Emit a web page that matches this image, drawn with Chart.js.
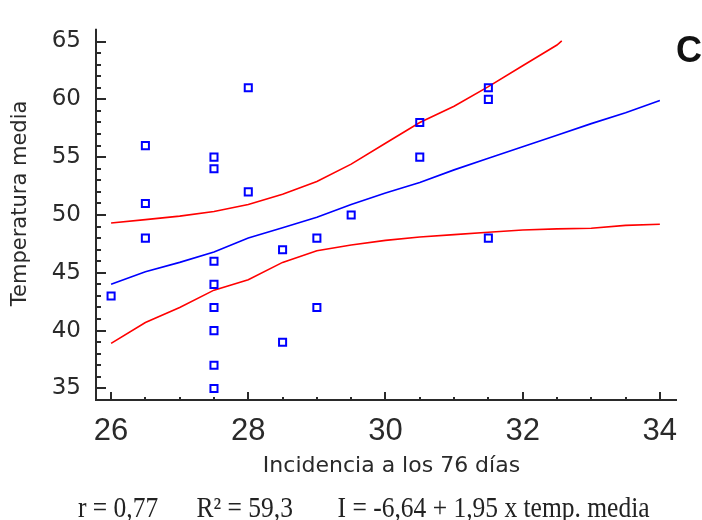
<!DOCTYPE html>
<html>
<head>
<meta charset="utf-8">
<script src="https://cdn.jsdelivr.net/npm/chart.js@4.4.1/dist/chart.umd.min.js"></script>
<style>
  html, body { margin: 0; padding: 0; background: #ffffff; }
  #wrap { width: 702px; height: 520px; position: relative; }
</style>
</head>
<body>
<div id="wrap"><canvas id="c" width="702" height="520"></canvas></div>
<script>
// ---- data ----
const pointX = [26, 26.5, 26.5, 26.5, 27.5, 27.5, 27.5, 27.5, 27.5, 27.5, 27.5, 27.5, 28, 28, 28.5, 28.5, 29, 29, 29.5, 30.5, 30.5, 31.5, 31.5, 31.5];
const pointY = [43, 56, 51, 48, 55, 54, 46, 44, 42, 40, 37, 35, 61, 52, 47, 39, 48, 42, 50, 58, 55, 61, 60, 48];

const fitX = [26, 26.5, 27, 27.5, 28, 28.5, 29, 29.5, 30, 30.5, 31, 31.5, 32, 32.5, 33, 33.5, 34];
const fitY = [44.0, 45.1, 45.9, 46.8, 48.0, 48.9, 49.8, 50.9, 51.9, 52.8, 53.9, 54.9, 55.9, 56.9, 57.9, 58.85, 59.9];

const upperX = [26, 26.5, 27, 27.5, 28, 28.5, 29, 29.5, 30, 30.5, 31, 31.5, 32, 32.5, 32.57];
const upperY = [49.3, 49.6, 49.9, 50.3, 50.9, 51.8, 52.9, 54.4, 56.2, 58.0, 59.4, 61.1, 62.9, 64.7, 65.05];

const lowerX = [26, 26.5, 27, 27.5, 28, 28.5, 29, 29.5, 30, 30.5, 31, 31.5, 32, 32.5, 33, 33.5, 34];
const lowerY = [38.9, 40.7, 42.0, 43.5, 44.4, 45.9, 46.9, 47.4, 47.8, 48.1, 48.3, 48.5, 48.7, 48.8, 48.85, 49.1, 49.2];

const xTicks = [26, 28, 30, 32, 34];
const yTicks = [35, 40, 45, 50, 55, 60, 65];

const xTitle = 'Incidencia a los 76 días';
const yTitle = 'Temperatura media';
const panelLabel = 'C';
const caption = 'r = 0,77      R\u00B2 = 59,3       I = -6,64 + 1,95 x temp. media';

// ---- helpers ----
const toXY = (xs, ys) => xs.map((x, i) => ({ x: x, y: ys[i] }));

const axisColor = '#2a2a2a';

const axesPlugin = {
  id: 'axesPlugin',
  afterDraw(chart) {
    const { ctx, chartArea: ca, scales } = chart;
    const xs = scales.x, ys = scales.y;
    ctx.save();
    ctx.strokeStyle = axisColor;
    ctx.lineWidth = 2;
    ctx.lineCap = 'butt';
    ctx.beginPath();
    ctx.moveTo(ca.left, ca.top);
    ctx.lineTo(ca.left, ca.bottom + 1);
    ctx.moveTo(ca.left - 1, ca.bottom);
    ctx.lineTo(ca.right, ca.bottom);
    ctx.stroke();

    // y ticks (inward): major every 5, minor every 1
    ctx.beginPath();
    for (let v = 35; v <= 65; v += 1) {
      const p = Math.round(ys.getPixelForValue(v));
      const len = (v % 5 === 0) ? 10 : 5;
      ctx.moveTo(ca.left, p);
      ctx.lineTo(ca.left + len, p);
    }
    // x ticks (inward): major every 2, minor every 0.5
    for (let k = 0; k <= 16; k++) {
      const v = 26 + k * 0.5;
      const p = Math.round(xs.getPixelForValue(v));
      const len = (k % 4 === 0) ? 8 : 3;
      ctx.moveTo(p, ca.bottom);
      ctx.lineTo(p, ca.bottom - len);
    }
    ctx.stroke();

    // axis titles
    ctx.fillStyle = axisColor;
    ctx.textAlign = 'center';
    ctx.textBaseline = 'middle';
    ctx.font = '22px "DejaVu Sans", sans-serif';
    ctx.fillText(xTitle, (ca.left + ca.right) / 2 + 5, 466);

    ctx.save();
    ctx.translate(21, (ca.top + ca.bottom) / 2 - 11);
    ctx.rotate(-Math.PI / 2);
    ctx.font = '21px "DejaVu Sans", sans-serif';
    ctx.fillText(yTitle, 0, 0);
    ctx.restore();

    // panel label
    ctx.fillStyle = '#111';
    ctx.font = 'bold 36px "Liberation Sans", Arial, sans-serif';
    ctx.textAlign = 'left';
    ctx.textBaseline = 'alphabetic';
    ctx.fillText(panelLabel, 676, 62);

    // caption (slightly tall lettering as in the reference)
    ctx.fillStyle = '#222';
    ctx.font = '25.5px "Liberation Serif", "Times New Roman", serif';
    ctx.textAlign = 'left';
    ctx.save();
    ctx.translate(78, 517);
    ctx.scale(1, 1.15);
    ctx.fillText(caption, 0, 0);
    ctx.restore();
    ctx.restore();
  }
};

new Chart(document.getElementById('c'), {
  type: 'scatter',
  data: {
    datasets: [
      {
        label: 'obs',
        data: toXY(pointX, pointY),
        showLine: false,
        pointStyle: 'rect',
        pointRadius: 5,
        pointBorderWidth: 2,
        borderColor: '#0000ff',
        backgroundColor: 'rgba(0,0,0,0)',
        order: 0
      },
      {
        label: 'fit',
        data: toXY(fitX, fitY),
        showLine: true,
        pointRadius: 0,
        borderColor: '#0000ff',
        borderWidth: 1.6,
        tension: 0,
        order: 1
      },
      {
        label: 'upper',
        data: toXY(upperX, upperY),
        showLine: true,
        pointRadius: 0,
        borderColor: '#ff0000',
        borderWidth: 1.6,
        tension: 0,
        order: 2
      },
      {
        label: 'lower',
        data: toXY(lowerX, lowerY),
        showLine: true,
        pointRadius: 0,
        borderColor: '#ff0000',
        borderWidth: 1.6,
        tension: 0,
        order: 2
      }
    ]
  },
  options: {
    responsive: false,
    animation: false,
    devicePixelRatio: 1,
    layout: { padding: { top: 15, right: 25, bottom: 0, left: 0 } },
    plugins: {
      legend: { display: false },
      tooltip: { enabled: false },
      title: { display: false }
    },
    scales: {
      x: {
        type: 'linear',
        min: 25.78,
        max: 34.25,
        afterBuildTicks: (s) => { s.ticks = xTicks.map(v => ({ value: v })); },
        afterFit: (s) => { s.height = 120; },
        grid: { display: false, drawTicks: false },
        border: { display: false },
        ticks: {
          color: '#2a2a2a',
          padding: 13,
          maxRotation: 0,
          font: { family: '"Liberation Sans", Arial, sans-serif', size: 31 }
        },
        title: { display: false }
      },
      y: {
        type: 'linear',
        min: 34,
        max: 66.1,
        afterBuildTicks: (s) => { s.ticks = yTicks.map(v => ({ value: v })); },
        afterFit: (s) => { s.width = 96; },
        grid: { display: false, drawTicks: false },
        border: { display: false },
        ticks: {
          color: '#2a2a2a',
          padding: 15,
          font: { family: '"DejaVu Sans", sans-serif', size: 23 }
        },
        title: { display: false }
      }
    }
  },
  plugins: [axesPlugin]
});
</script>
</body>
</html>
